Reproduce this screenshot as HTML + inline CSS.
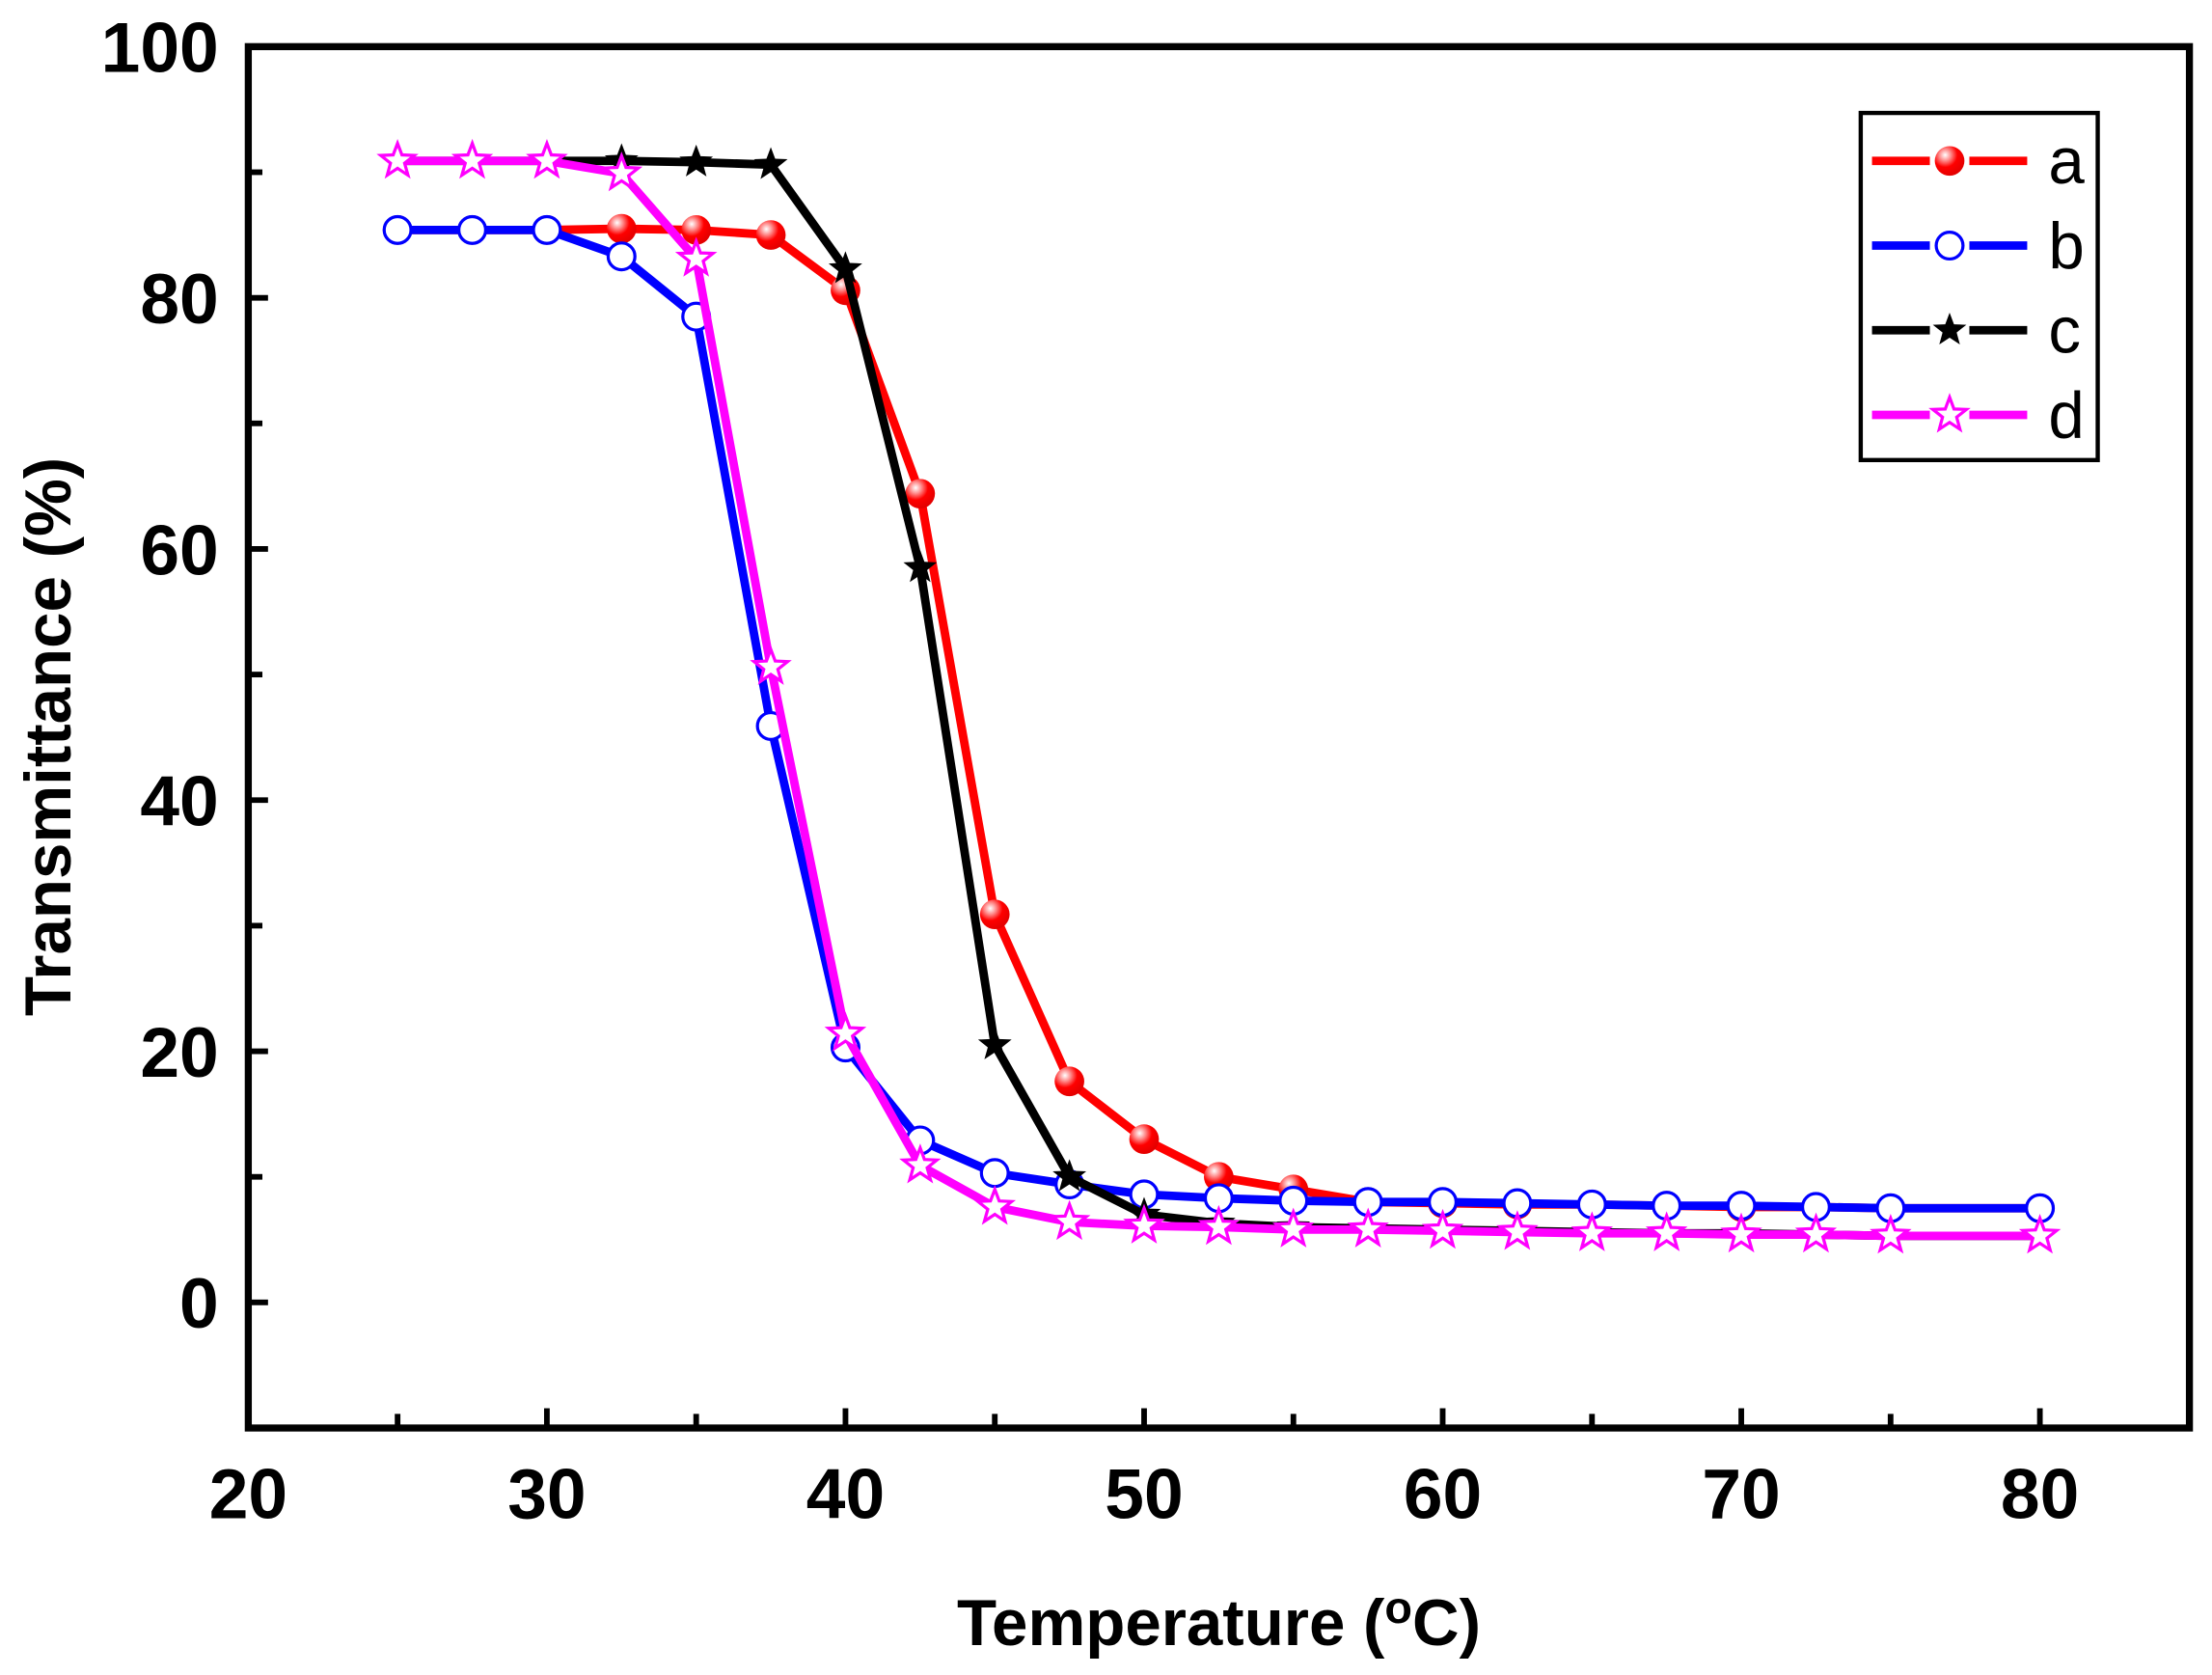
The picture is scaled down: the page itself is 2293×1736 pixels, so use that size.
<!DOCTYPE html>
<html><head><meta charset="utf-8"><style>
html,body{margin:0;padding:0;background:#fff;}
svg{display:block;}
text{font-family:"Liberation Sans",Arial,sans-serif;}
</style></head><body>
<svg id="s" width="2293" height="1736" viewBox="0 0 1568 1187" xmlns="http://www.w3.org/2000/svg">
<defs>
<radialGradient id="rg" cx="0.35" cy="0.3" r="0.75">
<stop offset="0" stop-color="#fff"/><stop offset="0.25" stop-color="#ff9090"/><stop offset="0.55" stop-color="#ff0000"/><stop offset="1" stop-color="#e00000"/>
</radialGradient>
</defs>
<rect x="0" y="0" width="1568" height="1187" fill="#fff"/>
<g id="plot"></g>
<rect x="176" y="33" width="1376" height="979" fill="none" stroke="#000" stroke-width="5"/>
<g id="axes"></g>
<text transform="translate(50,522) rotate(-90)" font-size="46" font-weight="bold" text-anchor="middle" x="0" y="0">Transmittance (%)</text>
<text x="864" y="1166" font-size="46" font-weight="bold" text-anchor="middle">Temperature (<tspan font-size="32" dy="-16">o</tspan><tspan dy="16">C)</tspan></text>
<rect x="1319" y="80" width="168" height="246" fill="#fff" stroke="#000" stroke-width="3"/>
<g id="leg"></g>
</svg>
<script>
const NS="http://www.w3.org/2000/svg";
function X(t){return 176+(t-20)*21.1667;}
function Y(v){return 923-v*8.9;}
function el(p,tag,a,txt){const e=document.createElementNS(NS,tag);for(const k in a)e.setAttribute(k,a[k]);if(txt!=null)e.textContent=txt;p.appendChild(e);return e;}
const axes=document.getElementById('axes');
for(let t=20;t<=80;t+=10){el(axes,'text',{x:X(t),y:1076,'font-size':50,'font-weight':'bold','text-anchor':'middle'},t);}
for(let t=25;t<=80;t+=5){const L=(t%10==0)?14:10;el(axes,'line',{x1:X(t),x2:X(t),y1:1012,y2:1012-L,stroke:'#000','stroke-width':4});}
for(let v=0;v<=100;v+=20){el(axes,'text',{x:155,y:Y(v)+18,'font-size':50,'font-weight':'bold','text-anchor':'end'},v);}
for(let v=0;v<=90;v+=10){const L=(v%20==0)?14:10;el(axes,'line',{x1:176,x2:176+L,y1:Y(v),y2:Y(v),stroke:'#000','stroke-width':4});}
const T=[];for(let t=25;t<=80;t+=2.5)T.push(t);
const a=[85.4,85.4,85.4,85.5,85.4,85.0,80.6,64.4,30.9,17.6,13.0,10.0,9.0,8.0,7.9,7.8,7.8,7.7,7.6,7.6,7.5,7.5,7.5];
const b=[85.4,85.4,85.4,83.3,78.5,45.9,20.3,12.9,10.3,9.4,8.6,8.3,8.1,8.0,8.0,7.9,7.8,7.7,7.7,7.6,7.5,7.5,7.5];
const c=[90.9,90.9,90.9,90.9,90.8,90.6,82.3,58.5,20.5,10.0,7.0,6.3,6.0,5.9,5.8,5.7,5.6,5.5,5.5,5.4,5.3,5.3,5.3];
const d=[90.9,90.9,90.9,89.9,83.1,50.6,21.4,10.9,7.6,6.4,6.1,6.0,5.8,5.8,5.7,5.6,5.5,5.5,5.4,5.4,5.3,5.3,5.3];
function star(cx,cy,R){const r=R*0.42;let p=[];for(let i=0;i<10;i++){const ang=-Math.PI/2+i*Math.PI/5;const rr=i%2?r:R;p.push((cx+rr*Math.cos(ang)).toFixed(1)+','+(cy+rr*Math.sin(ang)).toFixed(1));}return p.join(' ');}
function marker(g,type,x,y){
 if(type=='a')el(g,'circle',{cx:x,cy:y,r:10.5,fill:'url(#rg)'});
 else if(type=='b')el(g,'circle',{cx:x,cy:y,r:9.5,fill:'#fff',stroke:'#0000ff','stroke-width':2.2});
 else if(type=='c')el(g,'polygon',{points:star(x,y,12.5),fill:'#000'});
 else el(g,'polygon',{points:star(x,y,12.5),fill:'#fff',stroke:'#ff00ff','stroke-width':2.2});
}
const series=[['a',a,'#ff0000'],['b',b,'#0000ff'],['c',c,'#000000'],['d',d,'#ff00ff']];
const plot=document.getElementById('plot');
for(const [n,data,col] of series){
 const g=el(plot,'g',{});
 el(g,'polyline',{points:T.map((t,i)=>X(t)+','+Y(data[i])).join(' '),fill:'none',stroke:col,'stroke-width':6,'stroke-linejoin':'round'});
 T.forEach((t,i)=>{if(Math.abs(t-77.5)<0.01)return;marker(g,n,X(t),Y(data[i]));});
}
const leg=document.getElementById('leg');
series.forEach(([n,data,col],i)=>{const y=114+i*60;
 el(leg,'line',{x1:1327,x2:1368,y1:y,y2:y,stroke:col,'stroke-width':6});
 el(leg,'line',{x1:1396,x2:1437,y1:y,y2:y,stroke:col,'stroke-width':6});
 marker(leg,n,1382,y);
 el(leg,'text',{x:1452,y:y+16,'font-size':46},n);
});
</script>
</body></html>
